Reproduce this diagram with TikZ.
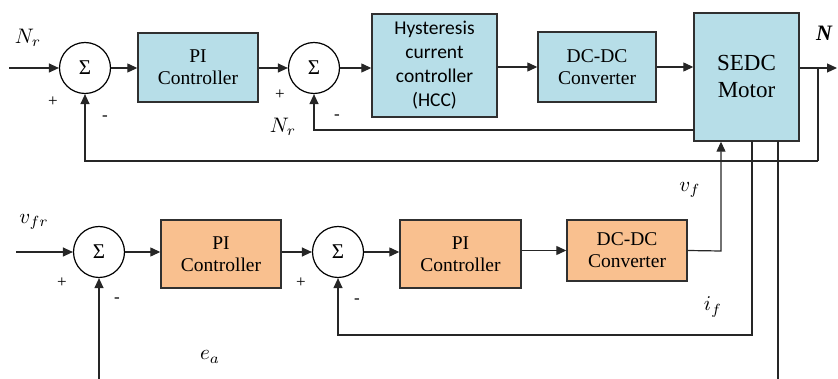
\documentclass[tikz,border=0pt]{standalone}
\usepackage{fontspec}
\setmainfont{Liberation Serif}
\newfontfamily\serfont{Liberation Serif}
\newfontfamily\calfont{Carlito}
\usetikzlibrary{arrows.meta}
\definecolor{boxblue}{HTML}{B7DEE8}
\definecolor{boxorange}{HTML}{F9C08F}
\definecolor{edgegray}{HTML}{303030}
\tikzset{
  blk/.style={draw=edgegray, line width=1.4pt, rectangle, align=center, inner sep=0pt, font=\serfont\fontsize{19.5}{22}\selectfont},
  bluebox/.style={blk, fill=boxblue},
  orangebox/.style={blk, fill=boxorange},
  sumnode/.style={draw=black, line width=1.2pt, circle, minimum size=51pt, inner sep=0pt, fill=white, font=\serfont\fontsize{21}{22}\selectfont},
  conn/.style={draw=black!85, line width=1.2pt},
  arr/.style={conn, -{Triangle[length=10pt,width=9pt]}},
  sgn/.style={font=\serfont\fontsize{17}{18}\selectfont, inner sep=0pt},
  lbl/.style={scale=2.1, inner sep=0pt}
}
\begin{document}
\begin{tikzpicture}[x=1pt,y=-1pt]
\useasboundingbox (0,0) rectangle (838,379);
% top row
\node[sumnode] (s1) at (85,68) {Σ};
\node[bluebox, minimum width=120pt, minimum height=69pt] (pi1) at (198,67.5) {PI\\Controller};
\node[sumnode] (s2) at (314,68) {Σ};
\node[bluebox, minimum width=125pt, minimum height=103pt, font=\calfont\fontsize{19.5}{24}\selectfont] (hcc) at (434.5,65.5) {Hysteresis\\current\\controller\\(HCC)};
\node[bluebox, minimum width=118pt, minimum height=70pt] (dc1) at (597,67) {DC-DC\\Converter};
\node[bluebox, minimum width=105pt, minimum height=128pt, font=\serfont\fontsize{23}{27}\selectfont] (mot) at (746.5,77) {SEDC\\Motor};
% bottom row
\node[sumnode] (s3) at (99,252) {Σ};
\node[orangebox, minimum width=120pt, minimum height=68pt] (pi2) at (221,254) {PI\\Controller};
\node[sumnode] (s4) at (338,252) {Σ};
\node[orangebox, minimum width=121pt, minimum height=68pt] (pi3) at (460.5,254) {PI\\Controller};
\node[orangebox, minimum width=120pt, minimum height=61pt] (dc2) at (627,250.5) {DC-DC\\Converter};
% coordinates
\coordinate (nin) at (9,68);
\coordinate (nout) at (837,68);
\coordinate (br) at (818,68);
\coordinate (fb1) at (818,161);
\coordinate (fb2) at (694,130);
\coordinate (vin) at (16,252);
\coordinate (vfc) at (721,251);
\coordinate (ift) at (752,141);
\coordinate (ifb) at (752,335);
\coordinate (eat) at (778,141);
\coordinate (eab) at (778,379);
\coordinate (eas) at (99,379);
% top connectors
\draw[arr] (nin) -- (s1.west);
\draw[arr] (s1.east) -- (pi1.west |- s1.east);
\draw[arr] (pi1.east |- s2.west) -- (s2.west);
\draw[arr] (s2.east) -- (hcc.west |- s2.east);
\draw[arr] (hcc.east |- dc1.west) -- (dc1.west);
\draw[arr] (dc1.east) -- (mot.west |- dc1.east);
\draw[arr] (mot.east |- nout) -- (nout);
\draw[conn] (br) -- (fb1);
\draw[arr] (fb1) -| (s1.south);
\draw[arr] (fb2) -| (s2.south);
% bottom connectors
\draw[arr] (vin) -- (s3.west);
\draw[arr] (s3.east) -- (pi2.west |- s3.east);
\draw[arr] (pi2.east |- s4.west) -- (s4.west);
\draw[arr] (s4.east) -- (pi3.west |- s4.east);
\draw[arr] (pi3.east |- dc2.west) -- (dc2.west);
\draw[arr] (dc2.east) -- (vfc) -- (mot.south -| vfc);
\draw[arr] (ift) -- (ifb) -| (s4.south);
\draw[conn] (eat) -- (eab);
\draw[arr] (eas) -- (s3.south);
% labels
\node[lbl] (lnr1) at (28,38) {$N_r$};
\node[sgn] (p1) at (53,102) {+};
\node[sgn] (m1) at (105,118) {-};
\node[sgn] (p2) at (280,95) {+};
\node[lbl] (lnr2) at (283,127) {$N_r$};
\node[sgn] (m2) at (337,117) {-};
\node[inner sep=0pt, font=\serfont\bfseries\itshape\fontsize{22}{24}\selectfont] (ln) at (824,33) {N};
\node[lbl] (lvf) at (690,190) {$v_f$};
\node[lbl] (lvfr) at (34,222) {$v_{fr}$};
\node[sgn] (p3) at (62,283) {+};
\node[sgn] (m3) at (117,300) {-};
\node[sgn] (p4) at (301,283) {+};
\node[sgn] (m4) at (357,301) {-};
\node[lbl] (lif) at (713,307) {$i_f$};
\node[lbl] (lea) at (210,357) {$e_a$};
\end{tikzpicture}
\end{document}
